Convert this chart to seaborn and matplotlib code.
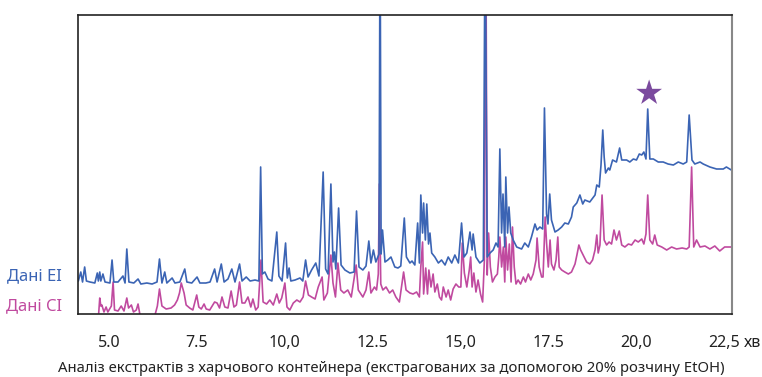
import numpy as np
import pandas as pd
import seaborn as sns
import matplotlib.pyplot as plt

# EI trace (minutes, arbitrary intensity)
ei_time = [4.12, 4.19, 4.24, 4.30, 4.35, 4.45, 4.59, 4.66, 4.69, 4.73, 4.76, 4.82, 4.88,
           5.02, 5.08, 5.13, 5.25, 5.39, 5.45, 5.50, 5.56, 5.70, 5.82, 5.90, 6.07, 6.22,
           6.36, 6.43, 6.50, 6.58, 6.64, 6.79, 6.87, 7.01, 7.15, 7.21, 7.35, 7.50, 7.58,
           7.75, 7.87, 8.00, 8.07, 8.19, 8.27, 8.38, 8.49, 8.58, 8.71, 8.78, 8.90, 9.01,
           9.15, 9.26, 9.31, 9.36, 9.43, 9.52, 9.63, 9.77, 9.83, 9.92, 10.02, 10.07, 10.12,
           10.17, 10.29, 10.43, 10.51, 10.59, 10.66, 10.76, 10.88, 10.97, 11.09, 11.16,
           11.23, 11.31, 11.37, 11.41, 11.45, 11.53, 11.60, 11.71, 11.85, 11.97, 12.04,
           12.11, 12.22, 12.31, 12.39, 12.45, 12.52, 12.59, 12.68, 12.71, 12.74, 12.78,
           12.85, 12.93, 13.02, 13.13, 13.22, 13.30, 13.40, 13.46, 13.56, 13.62, 13.70,
           13.78, 13.83, 13.87, 13.92, 13.95, 14.00, 14.04, 14.09, 14.13, 14.18, 14.27,
           14.37, 14.46, 14.56, 14.65, 14.75, 14.84, 14.94, 15.03, 15.10, 15.18, 15.27,
           15.33, 15.36, 15.44, 15.55, 15.65, 15.70, 15.76, 15.84, 15.93, 16.01, 16.07,
           16.12, 16.17, 16.21, 16.26, 16.29, 16.34, 16.38, 16.43, 16.50, 16.60, 16.74,
           16.83, 16.93, 17.02, 17.12, 17.18, 17.26, 17.34, 17.39, 17.45, 17.49, 17.54,
           17.59, 17.69, 17.78, 17.88, 17.97, 18.07, 18.16, 18.21, 18.31, 18.40, 18.48,
           18.54, 18.68, 18.83, 18.88, 18.95, 19.00, 19.05, 19.09, 19.13, 19.21, 19.25,
           19.33, 19.44, 19.53, 19.59, 19.73, 19.82, 19.92, 20.01, 20.09, 20.16, 20.22,
           20.28, 20.33, 20.39, 20.49, 20.63, 20.77, 20.91, 21.06, 21.20, 21.34, 21.44,
           21.51, 21.59, 21.67, 21.82, 21.91, 22.10, 22.29, 22.48, 22.57, 22.71]
ei_signal = [33, 42, 32, 47, 33, 32, 31, 41, 33, 42, 33, 40, 32,
             31, 54, 32, 32, 38, 31, 65, 32, 31, 35, 30, 31, 30,
             32, 55, 31, 42, 31, 36, 31, 32, 45, 32, 31, 37, 31,
             31, 32, 45, 32, 50, 32, 35, 45, 32, 50, 33, 37, 33,
             34, 33, 147, 40, 42, 35, 33, 82, 38, 33, 71, 36, 46,
             33, 34, 36, 33, 54, 37, 44, 51, 38, 142, 45,
             40, 130, 52, 62, 45, 106, 49, 44, 41, 42, 103,
             47, 44, 48, 73, 51, 64, 52, 60, 400, 60, 84,
             52, 54, 57, 47, 46, 48, 96, 57, 51, 53, 49,
             91, 51, 119, 81, 111, 74, 110, 70, 81, 61, 57,
             51, 54, 49, 57, 51, 59, 51, 91, 57, 61, 82,
             64, 80, 57, 51, 54, 400, 57, 61, 64, 71, 67,
             165, 81, 120, 67, 137, 81, 107, 81, 74, 67, 65,
             71, 67, 77, 90, 84, 87, 85, 206, 100, 90, 120,
             94, 82, 84, 87, 91, 90, 97, 107, 111, 119, 110,
             114, 112, 119, 129, 127, 149, 184, 157, 141, 146, 144,
             154, 152, 166, 154, 154, 152, 155, 154, 160, 159, 162,
             155, 205, 155, 155, 152, 152, 150, 149, 152, 150, 152,
             199, 154, 150, 152, 150, 147, 145, 145, 147, 144]

# CI trace; it has a gap between 5.87 and 6.31 min
ci_time_a = [4.70, 4.73, 4.76, 4.79, 4.85, 4.91, 4.96, 5.06, 5.11, 5.15, 5.25, 5.34,
             5.42, 5.50, 5.55, 5.63, 5.69, 5.77, 5.82, 5.87]
ci_signal_a = [1, 16, 8, 9, 2, 7, 2, 8, 32, 4, 3, 8,
               3, 16, 6, 9, 2, 4, 10, 0]
ci_time_b = [6.31, 6.37, 6.43, 6.50, 6.62, 6.76, 6.86, 6.94, 7.00, 7.05, 7.13, 7.19,
             7.29, 7.38, 7.49, 7.55, 7.62, 7.70, 7.76, 7.86, 8.00, 8.07, 8.14, 8.21,
             8.29, 8.38, 8.47, 8.55, 8.62, 8.71, 8.78, 8.86, 8.95, 9.03, 9.09, 9.17,
             9.24, 9.32, 9.38, 9.48, 9.57, 9.67, 9.77, 9.84, 9.91, 10.00, 10.06, 10.14,
             10.24, 10.34, 10.43, 10.52, 10.59, 10.67, 10.76, 10.86, 10.95, 11.06, 11.11,
             11.21, 11.31, 11.37, 11.44, 11.51, 11.59, 11.68, 11.79, 11.89, 12.03, 12.09,
             12.22, 12.31, 12.39, 12.45, 12.55, 12.61, 12.66, 12.69, 12.73, 12.79, 12.88,
             12.98, 13.07, 13.16, 13.26, 13.38, 13.45, 13.56, 13.65, 13.75, 13.83, 13.87,
             13.92, 13.95, 14.01, 14.06, 14.10, 14.16, 14.22, 14.27, 14.34, 14.40, 14.46,
             14.51, 14.59, 14.65, 14.72, 14.79, 14.87, 14.95, 15.01, 15.05, 15.11, 15.18,
             15.25, 15.29, 15.33, 15.38, 15.44, 15.50, 15.57, 15.63, 15.68, 15.72, 15.76,
             15.80, 15.85, 15.91, 15.98, 16.05, 16.09, 16.12, 16.17, 16.22, 16.26, 16.29,
             16.34, 16.39, 16.44, 16.48, 16.53, 16.58, 16.64, 16.71, 16.79, 16.85, 16.93,
             17.00, 17.07, 17.15, 17.18, 17.24, 17.31, 17.35, 17.41, 17.45, 17.50, 17.55,
             17.59, 17.66, 17.72, 17.77, 17.81, 17.88, 17.97, 18.07, 18.16, 18.26, 18.32,
             18.37, 18.42, 18.49, 18.59, 18.68, 18.76, 18.83, 18.88, 18.92, 18.97, 19.03,
             19.09, 19.16, 19.23, 19.30, 19.37, 19.44, 19.52, 19.59, 19.68, 19.78, 19.87,
             19.97, 20.06, 20.16, 20.22, 20.28, 20.33, 20.39, 20.47, 20.53, 20.60, 20.73,
             20.87, 21.01, 21.15, 21.31, 21.44, 21.51, 21.58, 21.64, 21.72, 21.82, 21.96,
             22.10, 22.24, 22.38, 22.52, 22.71]
ci_signal_b = [0, 8, 25, 8, 5, 6, 9, 14, 21, 31, 21, 9,
               6, 4, 19, 7, 5, 10, 5, 4, 12, 11, 6, 17,
               7, 6, 23, 7, 9, 32, 11, 11, 17, 7, 15, 4,
               7, 54, 12, 10, 14, 9, 20, 11, 16, 31, 7, 4,
               11, 14, 12, 17, 33, 19, 17, 15, 27, 37, 14,
               21, 59, 31, 17, 51, 24, 21, 24, 17, 49, 24,
               17, 24, 42, 21, 27, 24, 40, 130, 30, 24, 27,
               21, 24, 17, 12, 42, 24, 21, 20, 22, 17, 47,
               72, 20, 46, 20, 44, 27, 40, 22, 30, 17, 14,
               27, 17, 24, 14, 25, 30, 27, 27, 71, 41, 27,
               44, 57, 27, 41, 22, 34, 20, 12, 54, 400, 39,
               81, 47, 32, 37, 40, 57, 77, 47, 67, 32, 77,
               44, 70, 32, 87, 47, 30, 34, 30, 37, 32, 40,
               34, 40, 54, 76, 47, 37, 37, 97, 71, 47, 74,
               50, 44, 54, 77, 47, 44, 42, 40, 42, 50, 60,
               69, 64, 59, 52, 50, 54, 64, 79, 61, 69, 119,
               74, 69, 72, 70, 84, 74, 83, 69, 67, 70, 69,
               74, 72, 75, 70, 80, 119, 74, 70, 79, 69, 67,
               64, 67, 65, 66, 65, 67, 147, 67, 74, 67, 68,
               65, 68, 63, 67, 67]

star_time = [20.37]
star_signal = [221]

tick_values = [5.0, 7.5, 10.0, 12.5, 15.0, 17.5, 20.0, 22.5]
tick_labels = ["5.0", "7.5", "10,0", "12.5", "15,0", "17.5", "20,0", "22,5"]

ei_color = "#3b64b4"
ci_color = "#c04a9f"

ei = pd.DataFrame({"time": ei_time, "signal": ei_signal})
ci = pd.concat([
    pd.DataFrame({"time": ci_time_a, "signal": ci_signal_a, "seg": "a"}),
    pd.DataFrame({"time": ci_time_b, "signal": ci_signal_b, "seg": "b"}),
])

sns.set_style("white")
plt.rcParams["font.family"] = ["Noto Sans", "DejaVu Sans"]

fig = plt.figure(figsize=(7.62, 3.77), dpi=100)
ax = fig.add_axes([0.1028, 0.1671, 0.8574, 0.7939])

sns.lineplot(data=ci, x="time", y="signal", units="seg", estimator=None, sort=False,
             color=ci_color, lw=1.2, ax=ax)
sns.lineplot(data=ei, x="time", y="signal", estimator=None, sort=False,
             color=ei_color, lw=1.2, ax=ax)
sns.scatterplot(x=star_time, y=star_signal, marker="*", s=380, color="#7b4a9e",
                edgecolor="none", ax=ax, zorder=5)

ax.set_xlim(4.12, 22.72)
ax.set_ylim(0, 299.3)
ax.set_yticks([])
ax.set_xticks(tick_values)
ax.set_xticklabels(tick_labels, fontsize=11.5, color="#222222")
ax.tick_params(axis="x", length=5, width=1.2, pad=10, colors="#222222", labelcolor="#222222")
ax.set_xlabel("")
ax.set_ylabel("")

for side in ["left", "top", "bottom"]:
    ax.spines[side].set_color("#222222")
    ax.spines[side].set_linewidth(1.2)
ax.spines["right"].set_color("#888888")
ax.spines["right"].set_linewidth(1.5)

ax.annotate("хв", xy=(22.5, 0), xycoords=ax.get_xaxis_transform(),
            xytext=(14, -24), textcoords="offset points",
            ha="left", va="baseline", fontsize=11.5, color="#222222")

ax.text(-0.025, 0.125, "Дані EI", transform=ax.transAxes, ha="right", va="center",
        fontsize=12, color=ei_color)
ax.text(-0.025, 0.025, "Дані CI", transform=ax.transAxes, ha="right", va="center",
        fontsize=12, color=ci_color)

fig.text(0.514, 0.013, "Аналіз екстрактів з харчового контейнера (екстрагованих за допомогою 20% розчину EtOH)",
         ha="center", va="baseline", fontsize=10.7, color="#222222")

fig.savefig("out.png", dpi=100)
